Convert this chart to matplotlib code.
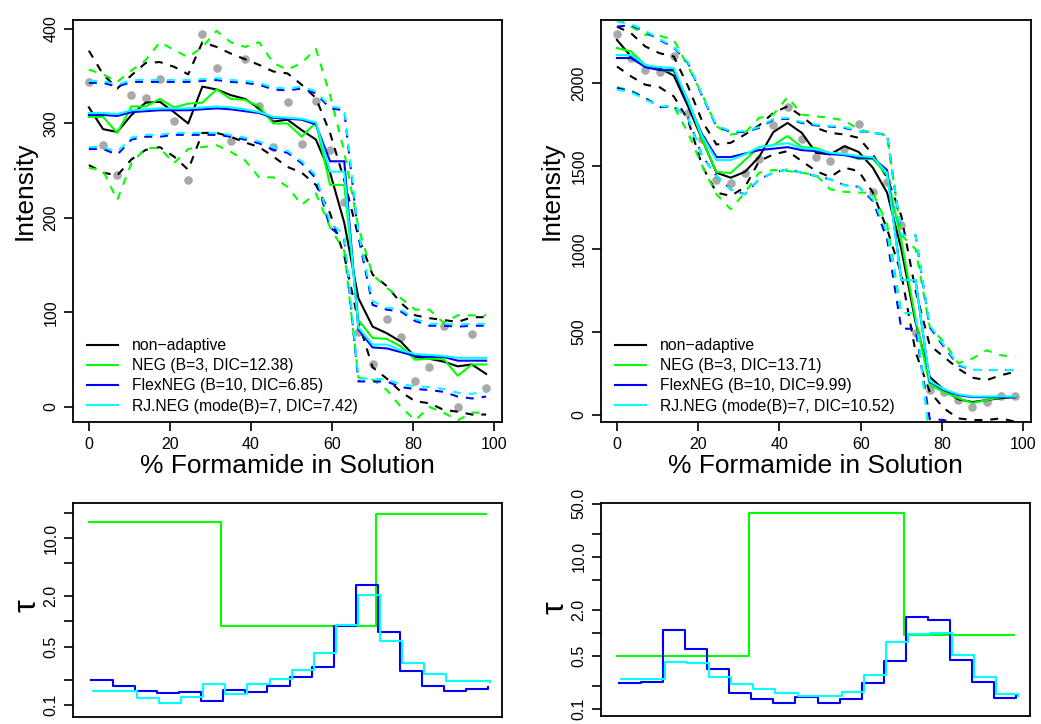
import matplotlib
matplotlib.use('Agg')
import matplotlib.pyplot as plt

plt.rcParams['font.family'] = ['Liberation Sans', 'DejaVu Sans']

# ---- data -------------------------------------------------------------
formamide = [0, 3.5, 7, 10.5, 14, 17.5, 21, 24.5, 28, 31.5, 35, 38.5, 42, 45.5,
             49, 52.5, 56, 59.5, 63, 66.5, 70, 73.5, 77, 80.5, 84, 87.5, 91, 94.5, 98]

# left dataset
obs_L = [344, 277, 246, 330, 327, 347, 303, 240, 395, 359, 281, 368, 318, 275,
         323, 278, 324, 272, 217, 79, 45, 93, 74, 27, 42, 86, 0, 77, 20]
black_L = [317, 294, 291, 309, 322, 323, 312, 300, 339, 336, 330, 326, 316, 302,
           304, 293, 283, 248, 195, 115, 85, 78, 69, 53, 51, 48, 43, 45, 35]
black_lo_L = [256, 248, 245, 262, 272, 275, 265, 251, 290, 290, 286, 280, 275, 265,
              254, 248, 235, 205, 160, 90, 42, 30, 16, 6, 4, -3, -5, -8, -8]
black_hi_L = [377, 352, 337, 351, 364, 365, 360, 352, 386, 381, 374, 368, 362, 355,
              353, 341, 327, 290, 240, 180, 140, 128, 110, 97, 94, 92, 90, 95, 95]
green_L = [307, 307, 290, 318, 318, 326, 317, 321, 322, 336, 326, 325, 318, 300,
           300, 286, 301, 235, 235, 92, 73, 72, 64, 50, 51, 51, 33, 45, 45]
green_lo_L = [253, 250, 219, 258, 274, 274, 258, 273, 275, 277, 270, 261, 243, 243,
              233, 214, 226, 190, 165, 31, 29, 18, 0, -14, 0, -6, -14, -6, -6]
green_hi_L = [357, 352, 344, 356, 367, 386, 378, 370, 381, 398, 386, 381, 386, 364,
              357, 364, 379, 330, 270, 190, 140, 126, 115, 103, 103, 89, 97, 97, 97]
blue_L = [309, 309, 308, 312, 313, 314, 314, 314, 315, 316, 315, 313, 311, 306,
          305, 304, 299, 260, 260, 82, 63, 62, 58, 54, 53, 53, 49, 49, 49]
blue_lo_L = [273, 273, 267, 283, 286, 286, 288, 288, 288, 288, 286, 283, 279, 272,
             269, 258, 242, 190, 178, 27, 27, 27, 21, 19, 18, 16, 11, 9, 11]
blue_hi_L = [343, 343, 339, 344, 344, 344, 344, 344, 345, 346, 344, 343, 341, 336,
             335, 337, 332, 316, 314, 180, 108, 103, 101, 91, 86, 86, 85, 86, 86]
cyan_L = [311, 311, 310, 314, 315, 316, 316, 316, 317, 318, 317, 315, 312, 307,
          306, 305, 301, 249, 249, 84, 66, 66, 60, 56, 55, 54, 52, 52, 52]
cyan_lo_L = [275, 275, 270, 285, 288, 288, 290, 290, 290, 290, 288, 285, 281, 275,
             271, 260, 245, 195, 182, 30, 30, 29, 24, 22, 21, 19, 15, 14, 16]
cyan_hi_L = [345, 345, 341, 346, 346, 346, 346, 346, 347, 348, 346, 345, 343, 338,
             337, 339, 334, 318, 316, 185, 112, 105, 103, 93, 88, 88, 87, 88, 88]

# right dataset
obs_R = [2295, 2150, 2078, 2066, 2163, 1819, 1663, 1416, 1398, 1458, 1542, 1747, 1855, 1663,
         1554, 1530, 1602, 1753, 1343, 1404, 1145, 494, 151, 139, 90, 48, 78, 114, 114]
black_R = [2260, 2160, 2100, 2090, 2045, 1860, 1660, 1460, 1430, 1465, 1555, 1705, 1760, 1700,
           1580, 1570, 1620, 1585, 1490, 1340, 1000, 560, 230, 151, 95, 78, 90, 102, 108]
black_lo_R = [2100, 2040, 1990, 1975, 1920, 1777, 1500, 1340, 1320, 1373, 1530, 1570, 1590, 1530,
              1470, 1434, 1490, 1470, 1340, 1120, 850, 380, 140, 40, -20, -30, -30, -20, -40]
black_hi_R = [2340, 2300, 2220, 2180, 2160, 1980, 1770, 1630, 1640, 1690, 1745, 1820, 1860, 1800,
              1730, 1700, 1690, 1670, 1570, 1430, 1200, 750, 420, 350, 280, 225, 210, 240, 260]
green_R = [2211, 2190, 2108, 2078, 2072, 1898, 1660, 1464, 1458, 1536, 1614, 1626, 1681, 1614,
           1608, 1578, 1572, 1542, 1542, 1446, 1050, 580, 181, 139, 102, 72, 90, 108, 108]
green_lo_R = [1975, 1955, 1910, 1855, 1860, 1700, 1500, 1330, 1240, 1340, 1460, 1476, 1470, 1460,
              1446, 1360, 1345, 1340, 1340, 1150, 614, 614, -150, -150, -150, -150, -150, -150, -150]
green_hi_R = [2390, 2340, 2290, 2285, 2260, 2100, 1930, 1740, 1690, 1700, 1790, 1810, 1916, 1810,
              1800, 1790, 1775, 1720, 1700, 1685, 1084, 1000, 530, 440, 313, 340, 390, 360, 349]
blue_R = [2151, 2151, 2096, 2078, 2078, 1880, 1690, 1554, 1554, 1575, 1596, 1605, 1614, 1596,
          1590, 1572, 1566, 1548, 1548, 1476, 813, 813, 199, 150, 120, 108, 108, 108, 108]
blue_lo_R = [1970, 1950, 1910, 1855, 1860, 1790, 1560, 1440, 1360, 1330, 1420, 1460, 1480, 1460,
             1440, 1420, 1385, 1375, 1290, 1060, 520, 520, -25, -30, -60, -80, -100, -100, -100]
blue_hi_R = [2340, 2349, 2310, 2260, 2215, 2120, 1920, 1740, 1705, 1705, 1730, 1780, 1785, 1760,
             1745, 1738, 1730, 1710, 1700, 1690, 1084, 1084, 530, 410, 300, 272, 271, 271, 271]
cyan_R = [2169, 2169, 2108, 2096, 2090, 1890, 1680, 1536, 1536, 1570, 1614, 1626, 1638, 1608,
          1600, 1580, 1572, 1560, 1554, 1458, 813, 813, 205, 155, 125, 112, 112, 112, 112]
cyan_lo_R = [1960, 1945, 1900, 1860, 1860, 1790, 1560, 1440, 1360, 1330, 1420, 1460, 1480, 1460,
             1440, 1420, 1385, 1375, 1300, 1100, 614, 614, -150, -150, -150, -150, -150, -150, -150]
cyan_hi_R = [2370, 2355, 2315, 2265, 2220, 2125, 1925, 1745, 1710, 1710, 1735, 1785, 1790, 1765,
             1750, 1742, 1735, 1712, 1700, 1690, 1084, 1084, 540, 420, 305, 272, 271, 271, 271]

labels_L = ['non\u2212adaptive', 'NEG (B=3, DIC=12.38)', 'FlexNEG (B=10, DIC=6.85)',
            'RJ.NEG (mode(B)=7, DIC=7.42)']
labels_R = ['non\u2212adaptive', 'NEG (B=3, DIC=13.71)', 'FlexNEG (B=10, DIC=9.99)',
            'RJ.NEG (mode(B)=7, DIC=10.52)']

# tau (shrinkage) step values on 19 knots
tau_x = [0, 5.44, 10.89, 16.33, 21.78, 27.22, 32.67, 38.11, 43.56, 49.0,
         54.44, 59.89, 65.33, 70.78, 76.22, 81.67, 87.11, 92.56, 98.0]
tau_green_L = [15.6, 15.6, 15.6, 15.6, 15.6, 15.6, 0.88, 0.88, 0.88, 0.88,
               0.88, 0.88, 0.88, 19.3, 19.3, 19.3, 19.3, 19.3, 19.3]
tau_blue_L = [0.199, 0.170, 0.147, 0.141, 0.143, 0.112, 0.151, 0.144, 0.169, 0.216,
              0.288, 0.883, 2.74, 0.748, 0.255, 0.167, 0.146, 0.154, 0.163]
tau_cyan_L = [0.147, 0.147, 0.121, 0.106, 0.124, 0.180, 0.135, 0.180, 0.207, 0.260,
              0.423, 0.916, 2.08, 0.589, 0.315, 0.233, 0.194, 0.195, 0.19]
tau_green_R = [0.50, 0.50, 0.50, 0.50, 0.50, 0.50, 37.1, 37.1, 37.1, 37.1,
               37.1, 37.1, 37.1, 0.925, 0.925, 0.925, 0.925, 0.925, 0.925]
tau_blue_R = [0.218, 0.225, 1.076, 0.617, 0.333, 0.161, 0.134, 0.121, 0.142, 0.119,
              0.135, 0.218, 0.425, 1.64, 1.46, 0.438, 0.225, 0.138, 0.158]
tau_cyan_R = [0.251, 0.251, 0.420, 0.400, 0.267, 0.212, 0.183, 0.162, 0.150, 0.146,
              0.166, 0.281, 0.748, 0.953, 1.01, 0.519, 0.267, 0.158, 0.146]

# ---- style -------------------------------------------------------------
COLS = ['black', '#00ff00', '#0000ff', '#00ffff']
GREY = '#a9a9a9'
LW = 1.5
DASH = (0, (3.8, 3.8))
W, H = 1041, 724


def frac(x0, y0, x1, y1):
    return [x0 / W, 1 - y1 / H, (x1 - x0) / W, (y1 - y0) / H]


def style_axes(ax):
    for s in ax.spines.values():
        s.set_linewidth(1.3)
    ax.tick_params(direction='out', length=6.5, width=1.2, labelsize=11.5, pad=4)
    for lab in ax.get_yticklabels():
        lab.set_rotation(90)
        lab.set_va('center')


def draw_top(ax, obs, fits, labels, ylim, yticks, leg_x):
    ax.plot(formamide, obs, 'o', color=GREY, ms=6.2, mew=0, zorder=1)
    for (mid, lo, hi), col, lab in zip(fits, COLS, labels):
        ax.plot(formamide, mid, color=col, lw=LW, label=lab, zorder=2)
        ax.plot(formamide, lo, color=col, lw=LW, ls=DASH, zorder=2)
        ax.plot(formamide, hi, color=col, lw=LW, ls=DASH, zorder=2)
    ax.set_xlim(-3.92, 101.92)
    ax.set_ylim(*ylim)
    ax.set_xticks([0, 20, 40, 60, 80, 100])
    ax.set_yticks(yticks)
    style_axes(ax)
    ax.legend(loc='upper left', bbox_to_anchor=(leg_x / W, 1 - 338 / H),
              bbox_transform=fig.transFigure, frameon=False, fontsize=11.3,
              handlelength=2.0, handletextpad=0.85, labelspacing=0.33,
              borderpad=0, borderaxespad=0)


def draw_tau(ax, green, blue, cyan, ylim, ticks, shown):
    ax.step(tau_x, green, where='post', color=COLS[1], lw=LW)
    ax.step([v + 0.5 for v in tau_x], blue, where='post', color=COLS[2], lw=LW)
    ax.step([v + 1.0 for v in tau_x], cyan, where='post', color=COLS[3], lw=LW)
    ax.set_yscale('log')
    ax.set_xlim(-3.92, 101.92)
    ax.set_ylim(*ylim)
    ax.set_xticks([])
    ax.set_yticks(ticks)
    ax.set_yticklabels(['%.1f' % t if t in shown else '' for t in ticks])
    ax.yaxis.set_minor_locator(plt.NullLocator())
    style_axes(ax)


fig = plt.figure(figsize=(W / 100, H / 100), dpi=100)

ax1 = fig.add_axes(frac(73, 20, 502, 422))
draw_top(ax1, obs_L,
         [(black_L, black_lo_L, black_hi_L), (green_L, green_lo_L, green_hi_L),
          (blue_L, blue_lo_L, blue_hi_L), (cyan_L, cyan_lo_L, cyan_hi_L)],
         labels_L, (-15.9, 409.5), [0, 100, 200, 300, 400], 87)

ax2 = fig.add_axes(frac(601, 20, 1031, 422))
draw_top(ax2, obs_R,
         [(black_R, black_lo_R, black_hi_R), (green_R, green_lo_R, green_hi_R),
          (blue_R, blue_lo_R, blue_hi_R), (cyan_R, cyan_lo_R, cyan_hi_R)],
         labels_R, (-42, 2380), [0, 500, 1000, 1500, 2000], 615)

ax3 = fig.add_axes(frac(73, 503, 502, 717))
draw_tau(ax3, tau_green_L, tau_blue_L, tau_cyan_L, (0.0718, 26.2),
         [0.1, 0.2, 0.5, 1.0, 2.0, 5.0, 10.0, 20.0], [0.1, 0.5, 2.0, 10.0])

ax4 = fig.add_axes(frac(601, 503, 1030, 716))
draw_tau(ax4, tau_green_R, tau_blue_R, tau_cyan_R, (0.0809, 50.8),
         [0.1, 0.2, 0.5, 1.0, 2.0, 5.0, 10.0, 20.0, 50.0], [0.1, 0.5, 2.0, 10.0, 50.0])

# axis titles
lab_kw = dict(fontsize=19, ha='center', va='center')
fig.text(25 / W, 1 - 191 / H, 'Intensity', rotation=90, **lab_kw)
fig.text(552 / W, 1 - 191 / H, 'Intensity', rotation=90, **lab_kw)
fig.text(287 / W, 1 - 466 / H, '% Formamide in Solution', **lab_kw)
fig.text(815 / W, 1 - 466 / H, '% Formamide in Solution', **lab_kw)
fig.text(27 / W, 1 - 606 / H, '\u03c4', rotation=90, fontsize=23, ha='center', va='center')
fig.text(555 / W, 1 - 608 / H, '\u03c4', rotation=90, fontsize=23, ha='center', va='center')

fig.savefig('out.png', dpi=100)
